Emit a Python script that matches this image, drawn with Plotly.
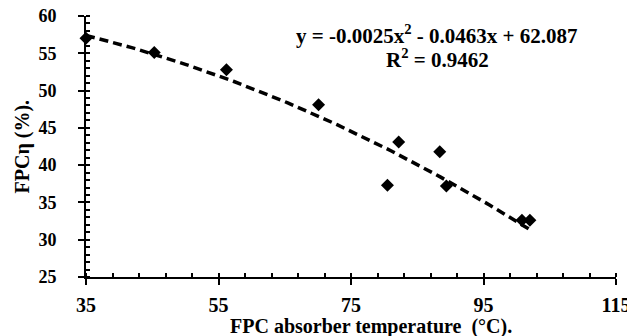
import numpy as np
import plotly.graph_objects as go

# Data
temperature = [35.0, 45.3, 56.2, 70.1, 80.5, 82.2, 88.4, 89.4, 100.8, 102.0]
efficiency = [57.0, 55.1, 52.8, 48.1, 37.3, 43.1, 41.8, 37.2, 32.6, 32.6]

# Polynomial trendline coefficients shown on the chart (a, b, c)
trend_coef = [-0.0025, -0.0463, 62.087]
equation_text = "y = -0.0025x<sup>2</sup> - 0.0463x + 62.087"
r2_text = "R<sup>2</sup> = 0.9462"

x_title = "FPC absorber temperature  (°C)."
y_title = "FPCη (%)."

tx = np.linspace(min(temperature), max(temperature), 100)
ty = trend_coef[0] * tx**2 + trend_coef[1] * tx + trend_coef[2]

font_family = "Liberation Serif"

# plot area in the reference (screen px): x 86..616, y 16..277
TOP, BOT, LEFT, RIGHT = 16, 277, 86, 616
PW, PH = RIGHT - LEFT, BOT - TOP

fig = go.Figure()
fig.add_trace(go.Scatter(
    x=tx, y=ty, mode="lines",
    line=dict(color="black", width=3.5, dash="9px,5px"),
    hoverinfo="skip", showlegend=False,
))
fig.add_trace(go.Scatter(
    x=temperature, y=efficiency, mode="markers",
    marker=dict(symbol="diamond", size=10, color="black"),
    cliponaxis=False, showlegend=False,
))

fig.add_annotation(
    x=(437 - LEFT) / PW, y=(BOT - 35) / PH, xref="paper", yref="paper",
    text="<b>" + equation_text + "</b>", showarrow=False,
    font=dict(family=font_family, size=21, color="black"),
    xanchor="center", yanchor="middle",
)
fig.add_annotation(
    x=(437 - LEFT) / PW, y=(BOT - 58) / PH, xref="paper", yref="paper",
    text="<b>" + r2_text + "</b>", showarrow=False,
    font=dict(family=font_family, size=21, color="black"),
    xanchor="center", yanchor="middle",
)
fig.add_annotation(
    x=(371 - LEFT) / PW, y=-49 / PH, xref="paper", yref="paper",
    text="<b>" + x_title + "</b>", showarrow=False,
    font=dict(family=font_family, size=20, color="black"),
    xanchor="center", yanchor="middle",
)
fig.add_annotation(
    x=-64 / PW, y=0.5, xref="paper", yref="paper",
    text="<b>" + y_title + "</b>", showarrow=False, textangle=-90,
    font=dict(family=font_family, size=20, color="black"),
    xanchor="center", yanchor="middle",
)

fig.update_layout(
    width=635, height=336,
    margin=dict(l=LEFT - 8, r=635 - (RIGHT - 8), t=TOP - 8, b=336 - (BOT - 8)),
    plot_bgcolor="white", paper_bgcolor="white",
    font=dict(family=font_family, color="black"),
    xaxis=dict(
        range=[35, 115], tickmode="linear", tick0=35, dtick=20,
        showgrid=False, zeroline=False, automargin=False,
        showline=True, linecolor="black", linewidth=2,
        ticks="outside", ticklen=6, tickwidth=2, tickcolor="black",
        minor=dict(tick0=35, dtick=4, ticks="inside", ticklen=4,
                   tickwidth=2, tickcolor="black", showgrid=False),
        tickfont=dict(family=font_family, size=20, weight="bold"),
        ticklabelstandoff=3, ticklabeloverflow="allow",
    ),
    yaxis=dict(
        range=[25, 60], tickmode="linear", tick0=25, dtick=5,
        showgrid=False, zeroline=False, automargin=False,
        showline=True, linecolor="black", linewidth=2,
        ticks="outside", ticklen=6, tickwidth=2, tickcolor="black",
        minor=dict(tick0=25, dtick=1, ticks="inside", ticklen=4,
                   tickwidth=2, tickcolor="black", showgrid=False),
        tickfont=dict(family=font_family, size=18, weight="bold"),
        ticklabelstandoff=18, ticklabeloverflow="allow",
    ),
)

fig.write_html("out.html")
